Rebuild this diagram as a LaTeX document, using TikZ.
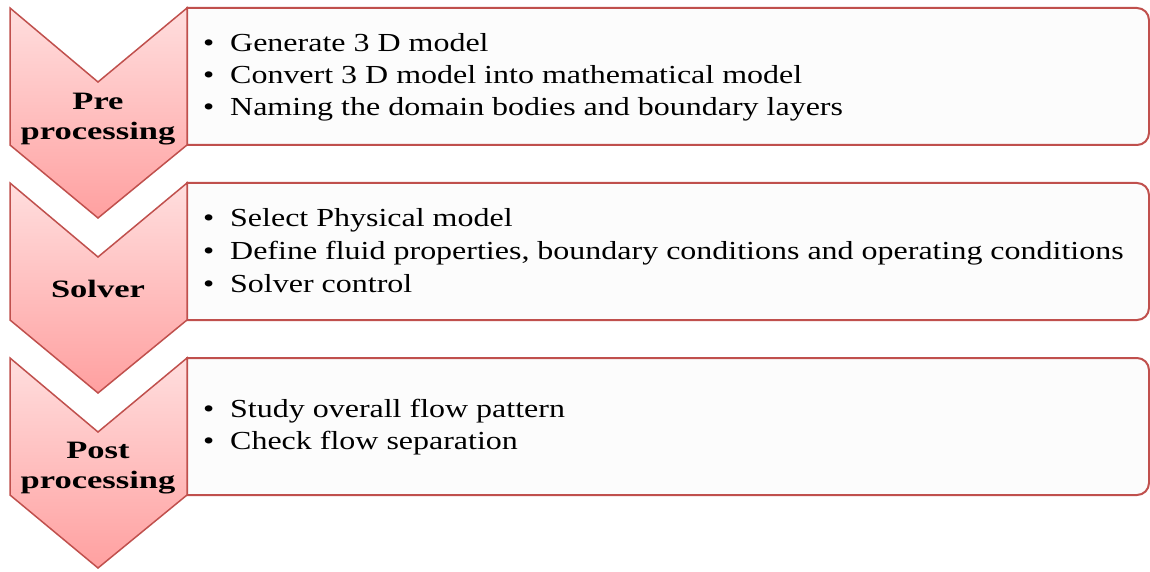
\documentclass[tikz,border=0pt]{standalone}
\usepackage{fontspec}
\setmainfont{Liberation Serif}
\newfontfamily\stagefont[FakeStretch=1.38]{Liberation Serif}
\newfontfamily\itemfont[FakeStretch=1.23]{Liberation Serif}
\usetikzlibrary{positioning}

\definecolor{edgered}{RGB}{192,80,77}
\definecolor{chevtop}{RGB}{255,222,222}
\definecolor{chevbot}{RGB}{255,160,160}
\definecolor{panelfill}{RGB}{252,252,252}

\newcommand{\bul}{\makebox[27pt][l]{\textbullet}}

\begin{document}
\begin{tikzpicture}[
    x=1pt, y=1pt,
    chevron/.style={
        draw=edgered,
        line width=1.5pt,
        top color=chevtop,
        bottom color=chevbot
    },
    panel/.style={
        draw=edgered,
        line width=2pt,
        fill=panelfill
    },
    stage/.style={
        font=\stagefont\bfseries\fontsize{25}{30}\selectfont,
        align=center,
        inner sep=0pt
    },
    item/.style={
        font=\itemfont\fontsize{26}{32}\selectfont,
        anchor=base west,
        inner sep=0pt
    }
]
\useasboundingbox (0,0) rectangle (1150,571);

% panels
\draw[panel] (187,563) -- (1137,563) arc[start angle=90, end angle=0, radius=12]
    -- (1149,438) arc[start angle=0, end angle=-90, radius=12] -- (187,426) -- cycle;
\draw[panel] (187,388) -- (1137,388) arc[start angle=90, end angle=0, radius=12]
    -- (1149,263) arc[start angle=0, end angle=-90, radius=12] -- (187,251) -- cycle;
\draw[panel] (187,213) -- (1137,213) arc[start angle=90, end angle=0, radius=12]
    -- (1149,88) arc[start angle=0, end angle=-90, radius=12] -- (187,76) -- cycle;

% chevrons
\draw[chevron] (10,563) -- (98,489) -- (187,563) -- (187,426) -- (98,353) -- (10,426) -- cycle;
\draw[chevron] (10,388) -- (98,314) -- (187,388) -- (187,251) -- (98,178) -- (10,251) -- cycle;
\draw[chevron] (10,213) -- (98,139) -- (187,213) -- (187,76) -- (98,3) -- (10,76) -- cycle;

% stage labels
\node[stage] (pre) at (98,452) {Pre\\processing};
\node[stage, anchor=base] (solver) at (98,274) {Solver};
\node[stage] (post) at (98,103) {Post\\processing};

% bullet items
\node[item] (pre1) at (203,519) {\bul Generate 3 D model};
\node[item] (pre2) at (203,487) {\bul Convert 3 D model into mathematical model};
\node[item] (pre3) at (203,455) {\bul Naming the domain bodies and boundary layers};

\node[item] (sol1) at (203,344) {\bul Select Physical model};
\node[item] (sol2) at (203,312) {\bul Define fluid properties, boundary conditions and operating conditions};
\node[item] (sol3) at (203,279) {\bul Solver control};

\node[item] (post1) at (203,154) {\bul Study overall flow pattern};
\node[item] (post2) at (203,122) {\bul Check flow separation};

\end{tikzpicture}
\end{document}
